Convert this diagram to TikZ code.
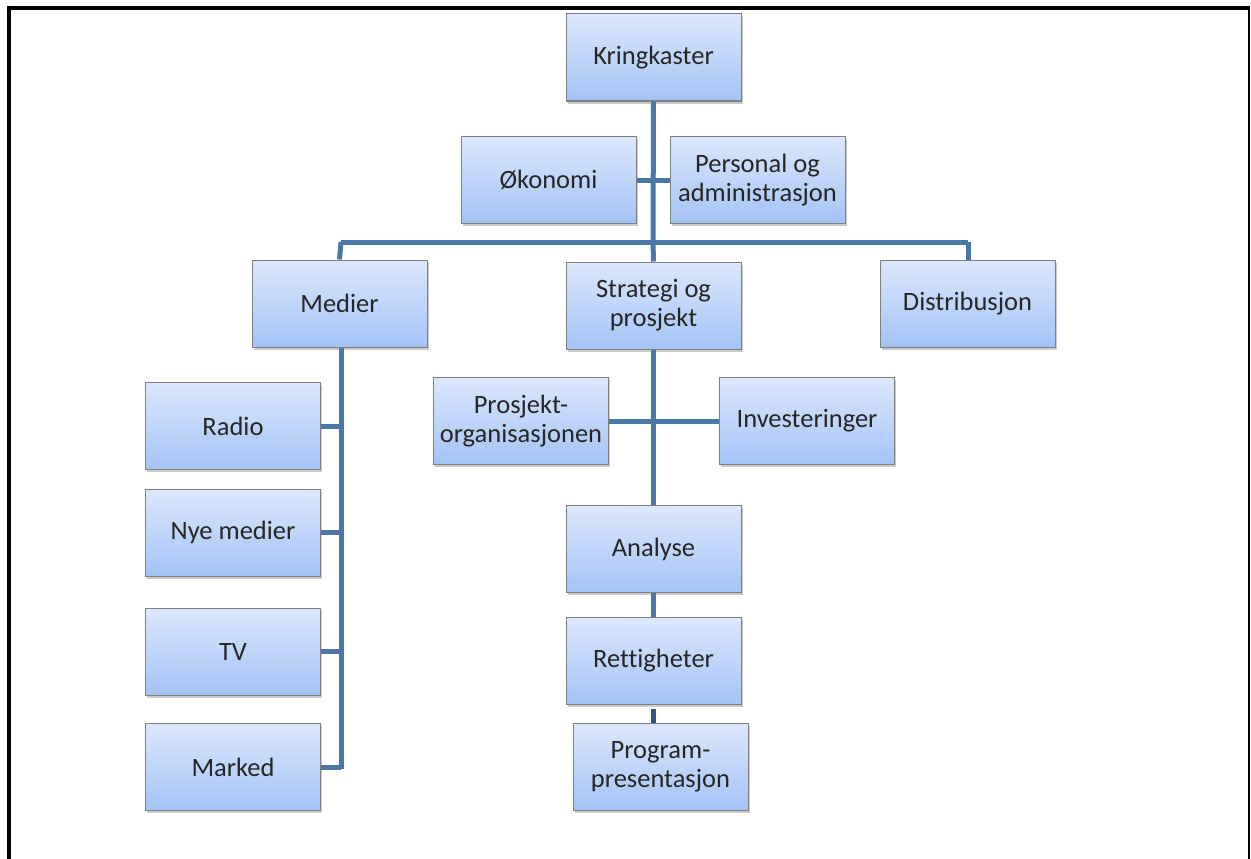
\documentclass[tikz,border=0pt]{standalone}
\usepackage{fontspec}
\setmainfont[Ligatures=NoCommon]{Carlito}
\usetikzlibrary{shadows}
\definecolor{linkblue}{RGB}{74,118,168}
\definecolor{linkdark}{RGB}{47,86,135}
\definecolor{boxtop}{RGB}{220,231,252}
\definecolor{boxbot}{RGB}{163,195,245}
\definecolor{boxedge}{RGB}{128,128,128}
\tikzset{
  orgbox/.style={draw=boxedge, line width=1pt, top color=boxtop, bottom color=boxbot,
    minimum width=175pt, minimum height=87pt, inner sep=2pt, align=center,
    font=\fontsize{26.5}{29}\selectfont, text=black!85,
    drop shadow={shadow xshift=1.5pt, shadow yshift=-2.5pt, opacity=0.35, fill=black!60}},
  link/.style={draw=linkblue, line width=5pt},
  frame/.style={draw=black}
}
\begin{document}
\begin{tikzpicture}[x=1pt,y=-1pt]
\useasboundingbox (0,0) rectangle (1251,859);
% frame
\draw[frame, line width=4pt] (7,8) -- (1250,8);
\draw[frame, line width=4pt] (9,6) -- (9,859);
\draw[frame, line width=2pt] (1249,8) -- (1249,859);

\coordinate (bar) at (653,242);
\coordinate (barL) at (341,242);
\coordinate (barR) at (968,242);
\coordinate (j1) at (653,180);
\coordinate (j2) at (653,421);

% nodes
\node[orgbox] (krk) at (653.5,57.5) {Kringkaster};
\node[orgbox] (oko) at (548.5,180) {Økonomi};
\node[orgbox] (per) at (757.5,180) {Personal og\\administrasjon};
\node[orgbox] (med) at (339.5,303.5) {Medier};
\node[orgbox] (str) at (653.5,305.5) {Strategi og\\prosjekt};
\node[orgbox] (dis) at (967.5,303.5) {Distribusjon};
\node[orgbox] (rad) at (233,426) {Radio};
\node[orgbox] (nye) at (233,532.5) {Nye medier};
\node[orgbox] (tv) at (233,651.5) {TV};
\node[orgbox] (mar) at (233,767) {Marked};
\node[orgbox] (pro) at (521,421) {Prosjekt-\\organisasjonen};
\node[orgbox] (inv) at (807,421) {Investeringer};
\node[orgbox] (ana) at (653.5,549) {Analyse};
\node[orgbox] (ret) at (653.5,660.5) {Rettigheter};
\node[orgbox] (prg) at (660.5,767) {Program-\\presentasjon};

% connectors
\draw[link] (krk.south) -- (bar);
\draw[link] (oko.east) -- (j1) -- (per.west);
\draw[link] (barL) -- (barR);
\draw[link] (barL) -- (med.north);
\draw[link] (bar) -- (str.north);
\draw[link] (barR) -- (dis.north -| barR);
\coordinate (mt) at (341,769);
\draw[link] (med.south -| mt) -- (mt);
\draw[link] (rad.east) -- (rad.east -| mt);
\draw[link] (nye.east) -- (nye.east -| mt);
\draw[link] (tv.east) -- (tv.east -| mt);
\draw[link] (mar.east) -- (mar.east -| mt);
\draw[link] (str.south) -- (ana.north);
\draw[link] (pro.east) -- (j2) -- (inv.west);
\draw[link] (ana.south) -- (ret.north);
\draw[draw=linkdark, line width=5pt] ([yshift=-4pt]ret.south) -- (prg.north -| ret.south);
\end{tikzpicture}
\end{document}
